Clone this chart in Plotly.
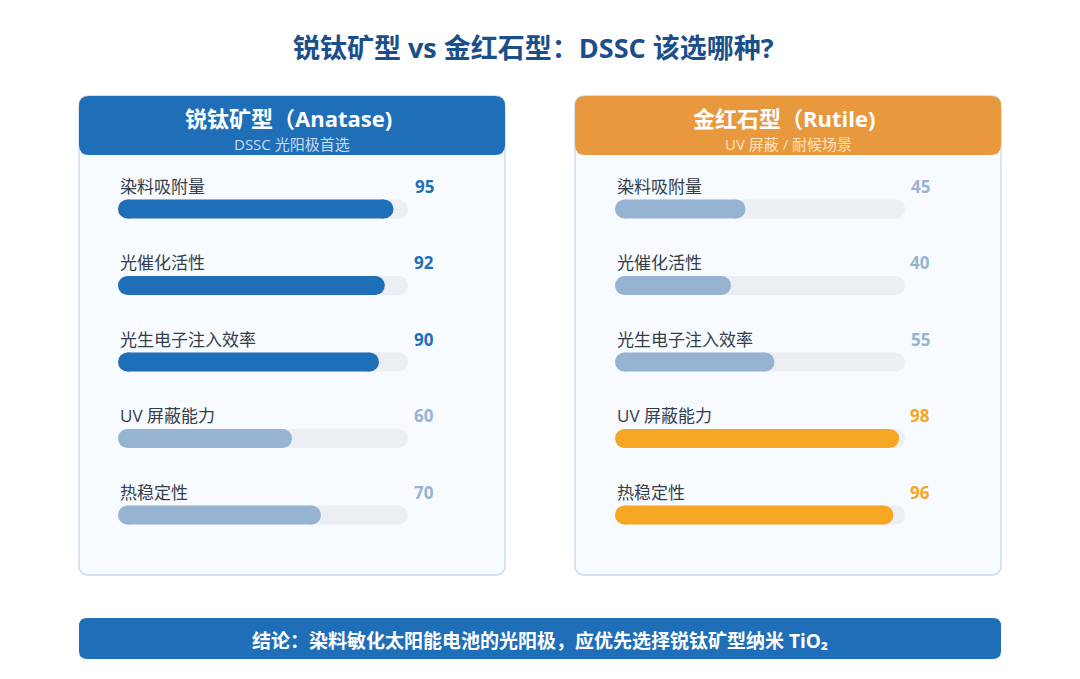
import plotly.graph_objects as go

# data
metrics = ['染料吸附量', '光催化活性', '光生电子注入效率', 'UV 屏蔽能力', '热稳定性']
anatase_scores = [95, 92, 90, 60, 70]
rutile_scores = [45, 40, 55, 98, 96]
card_titles = ['锐钛矿型（Anatase)', '金红石型（Rutile)']
card_subtitles = ['DSSC 光阳极首选', 'UV 屏蔽 / 耐候场景']
chart_title = '锐钛矿型 vs 金红石型：DSSC 该选哪种?'
conclusion = '结论：染料敏化太阳能电池的光阳极，应优先选择锐钛矿型纳米 TiO₂'

W, H = 1080, 679
FONT = 'Open Sans, Noto Sans CJK SC, sans-serif'
BLUE = '#1f6fb8'
ORANGE_HEAD = '#e8983d'
ORANGE = '#f5a623'
MUTED = '#97b3d2'
TRACK = '#ebeff4'
BAR_PX = 19          # bar thickness in pixels
TRACK_PX = 290       # track length in pixels (= 100 units)


def px(x):
    return x / W


def py(y):
    return 1 - y / H


def rounded_rect(x0, y0, x1, y1, r):
    # rounded rectangle path in paper coords, given pixel box
    pts = [
        ('M', x0 + r, y0), ('L', x1 - r, y0), ('Q', x1, y0, x1, y0 + r),
        ('L', x1, y1 - r), ('Q', x1, y1, x1 - r, y1), ('L', x0 + r, y1),
        ('Q', x0, y1, x0, y1 - r), ('L', x0, y0 + r), ('Q', x0, y0, x0 + r, y0),
    ]
    path = ''
    for p in pts:
        cmd, coords = p[0], p[1:]
        xy = []
        for i in range(0, len(coords), 2):
            xy.append('%.5f,%.5f' % (px(coords[i]), py(coords[i + 1])))
        path += cmd + ' ' + ' '.join(xy) + ' '
    return path + 'Z'


def pill(fig, value, row, color, xaxis, hover=True):
    # thick line with round caps (circle markers), caps kept inside 0..value
    inset = (BAR_PX / 2) * 100 / TRACK_PX
    fig.add_scatter(x=[inset, value - inset], y=[row, row], xaxis=xaxis, yaxis='y',
                    mode='lines+markers', showlegend=False,
                    line=dict(color=color, width=BAR_PX),
                    marker=dict(color=color, size=BAR_PX, symbol='circle', line=dict(width=0)),
                    hoverinfo='skip' if not hover else None,
                    hovertemplate=None if not hover else '%d<extra></extra>' % value)


fig = go.Figure()
rows = list(range(len(metrics)))

cards = [
    dict(scores=anatase_scores, xaxis='x', left=79, head=BLUE, strong=BLUE, sub='#c9dcf0'),
    dict(scores=rutile_scores, xaxis='x2', left=575, head=ORANGE_HEAD, strong=ORANGE, sub='#fbe2c2'),
]

shapes = []
annotations = []
for i, c in enumerate(cards):
    x0 = c['left']
    x1 = x0 + 426
    # card background + header
    shapes.append(dict(type='path', path=rounded_rect(x0, 96, x1, 575, 10), xref='paper', yref='paper',
                       fillcolor='#f7faff', line=dict(color='#c9d8e8', width=1.3), layer='below'))
    shapes.append(dict(type='path', path=rounded_rect(x0, 96, x1, 155, 10), xref='paper', yref='paper',
                       fillcolor=c['head'], line=dict(width=0), layer='below'))
    annotations.append(dict(text='<b>' + card_titles[i] + '</b>', x=px((x0 + x1) / 2 - 4), y=py(118),
                            xref='paper', yref='paper', xanchor='center', yanchor='middle', showarrow=False,
                            font=dict(size=22, color='white', family=FONT)))
    annotations.append(dict(text=card_subtitles[i], x=px((x0 + x1) / 2), y=py(144),
                            xref='paper', yref='paper', xanchor='center', yanchor='middle', showarrow=False,
                            font=dict(size=15, color=c['sub'], family=FONT)))

    colors = [c['strong'] if v >= 90 else MUTED for v in c['scores']]
    for r in rows:
        pill(fig, 100, r, TRACK, c['xaxis'], hover=False)
    for r, v in enumerate(c['scores']):
        pill(fig, v, r, colors[r], c['xaxis'])

    for r, (m, v, col) in enumerate(zip(metrics, c['scores'], colors)):
        annotations.append(dict(text=m, x=0, y=r - 0.30, xref=c['xaxis'], yref='y',
                                xanchor='left', yanchor='middle', showarrow=False,
                                font=dict(size=17, color='#343e4b', family=FONT)))
        annotations.append(dict(text='<b>%d</b>' % v, x=px(x0 + 357), y=r - 0.30,
                                xref='paper', yref='y', xanchor='right', yanchor='middle', showarrow=False,
                                font=dict(size=17, color=col, family=FONT)))

# conclusion banner
shapes.append(dict(type='path', path=rounded_rect(79, 618, 1001, 659, 8), xref='paper', yref='paper',
                   fillcolor=BLUE, line=dict(width=0), layer='below'))
annotations.append(dict(text='<b>' + conclusion + '</b>', x=px(540), y=py(641), xref='paper', yref='paper',
                        xanchor='center', yanchor='middle', showarrow=False,
                        font=dict(size=19, color='white', family=FONT)))

# title
annotations.append(dict(text='<b>' + chart_title + '</b>', x=px(533), y=py(48), xref='paper', yref='paper',
                        xanchor='center', yanchor='middle', showarrow=False,
                        font=dict(size=27, color='#1b4f8a', family=FONT)))

axis_style = dict(range=[0, 100], visible=False, fixedrange=True)
fig.update_layout(
    width=W, height=H,
    margin=dict(l=0, r=0, t=0, b=0),
    paper_bgcolor='white',
    plot_bgcolor='rgba(0,0,0,0)',
    xaxis=dict(domain=[px(118), px(408)], anchor='y', **axis_style),
    xaxis2=dict(domain=[px(615), px(905)], anchor='y', **axis_style),
    yaxis=dict(domain=[py(553.25), py(170.75)], range=[4.5, -0.5], visible=False, fixedrange=True),
    shapes=shapes,
    annotations=annotations,
    font=dict(family=FONT),
)

fig.write_html('out.html', config={'displayModeBar': False},
               post_script="document.body.style.margin='0';")
